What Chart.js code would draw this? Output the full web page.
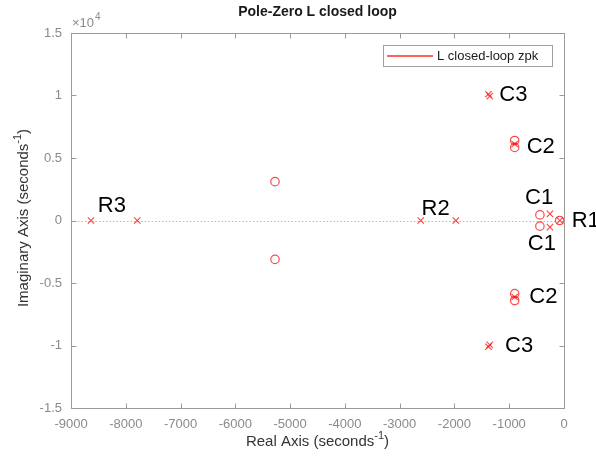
<!DOCTYPE html>
<html>
<head>
<meta charset="utf-8">
<script src="https://cdn.jsdelivr.net/npm/chart.js@4/dist/chart.umd.min.js"></script>
<style>
  html, body { margin: 0; padding: 0; background: #fff; }
  #wrap { width: 596px; height: 463px; }
</style>
</head>
<body>
<div id="wrap"><canvas id="pzChart" width="596" height="463"></canvas></div>
<script>
// poles (x markers) and zeros (o markers), seconds^-1
var poleRe = [-8635, -7790, -2615, -1975, -1380, -1355, -1380, -1355, -900, -900, -256, -256, -75];
var poleIm = [0, 0, 0, 0, 10100, 9950, -10100, -9950, 6120, -6120, 530, -530, 0];
var zeroRe = [-5276, -5276, -900, -900, -900, -900, -440, -440, -80];
var zeroIm = [3110, -3110, 6400, 5850, -6400, -5850, 450, -450, 0];

// text labels next to the pole groups
var labelText = ["R3", "R2", "C3", "C3", "C2", "C2", "C1", "C1", "R1"];
var labelRe = [-8510, -2600, -1180, -1077, -681, -634, -712, -661, 140];
var labelIm = [1180, 950, 10040, -10060, 5890, -6150, 1790, -1880, 0];

var xTicksMin = -9000, xTicksMax = 0, xStep = 1000;
var yTicksMin = -15000, yTicksMax = 15000, yStep = 5000;

var RED = "rgba(255,0,0,0.72)";
var GRAY = "#8a8a8a";
var FONT = "'Liberation Sans', Arial, sans-serif";

function toPoints(re, im) {
    var pts = [];
    for (var i = 0; i < re.length; i++) pts.push({ x: re[i], y: im[i] });
    return pts;
}

var pzPlugin = {
    id: "pzDecor",
    beforeDatasetsDraw: function (chart) {
        var ctx = chart.ctx, ys = chart.scales.y;
        var a = chart.chartArea;
        ctx.save();
        ctx.strokeStyle = "#b8b8b8";
        ctx.lineWidth = 1;
        ctx.setLineDash([1.5, 2]);
        var y0 = Math.round(ys.getPixelForValue(0)) + 0.5;
        ctx.beginPath();
        ctx.moveTo(a.left, y0);
        ctx.lineTo(a.right, y0);
        ctx.stroke();
        ctx.restore();
    },
    afterDraw: function (chart) {
        var ctx = chart.ctx, xs = chart.scales.x, ys = chart.scales.y;
        var a = chart.chartArea;
        var L = Math.round(a.left) + 0.5, R = Math.round(a.right) + 0.5;
        var T = Math.round(a.top) + 0.5, B = Math.round(a.bottom) + 0.5;
        ctx.save();

        // box
        ctx.strokeStyle = "#9a9a9a";
        ctx.lineWidth = 1;
        ctx.strokeRect(L, T, R - L, B - T);

        // inward ticks on all four sides
        ctx.beginPath();
        xs.ticks.forEach(function (t) {
            var px = Math.round(xs.getPixelForValue(t.value)) + 0.5;
            ctx.moveTo(px, B); ctx.lineTo(px, B - 5);
            ctx.moveTo(px, T); ctx.lineTo(px, T + 5);
        });
        ys.ticks.forEach(function (t) {
            var py = Math.round(ys.getPixelForValue(t.value)) + 0.5;
            ctx.moveTo(L, py); ctx.lineTo(L + 5, py);
            ctx.moveTo(R, py); ctx.lineTo(R - 5, py);
        });
        ctx.stroke();

        // title
        ctx.fillStyle = "#1a1a1a";
        ctx.font = "bold 14px " + FONT;
        ctx.textAlign = "center";
        ctx.textBaseline = "middle";
        ctx.fillText("Pole-Zero L closed loop", (a.left + a.right) / 2, 12);

        // exponent marker
        ctx.fillStyle = GRAY;
        ctx.textAlign = "left";
        ctx.textBaseline = "alphabetic";
        ctx.font = "13px " + FONT;
        ctx.fillText("\u00d710", a.left + 1, 27);
        var w10 = ctx.measureText("\u00d710").width;
        ctx.font = "10px " + FONT;
        ctx.fillText("4", a.left + 1 + w10 + 1, 20);

        // axis titles with superscript
        function drawSup(base, sup, tail, size, cx, cy) {
            var small = Math.round(size * 0.7);
            ctx.font = size + "px " + FONT;
            var w1 = ctx.measureText(base).width;
            var w3 = ctx.measureText(tail).width;
            ctx.font = small + "px " + FONT;
            var w2 = ctx.measureText(sup).width;
            var x = cx - (w1 + w2 + w3) / 2;
            ctx.textAlign = "left";
            ctx.textBaseline = "middle";
            ctx.font = size + "px " + FONT;
            ctx.fillText(base, x, cy);
            ctx.font = small + "px " + FONT;
            ctx.fillText(sup, x + w1, cy - 6);
            ctx.font = size + "px " + FONT;
            ctx.fillText(tail, x + w1 + w2, cy);
        }
        ctx.fillStyle = "#333";
        drawSup("Real Axis (seconds", "-1", ")", 15, (a.left + a.right) / 2, 442);
        ctx.save();
        ctx.translate(24, 218);
        ctx.rotate(-Math.PI / 2);
        drawSup("Imaginary Axis (seconds", "-1", ")", 15, 0, 0);
        ctx.restore();

        // legend
        var lx = 383.5, ly = 45.5, lw = 169, lh = 21;
        ctx.fillStyle = "#fff";
        ctx.fillRect(lx, ly, lw, lh);
        ctx.strokeStyle = "#a0a0a0";
        ctx.lineWidth = 1;
        ctx.strokeRect(lx, ly, lw, lh);
        ctx.strokeStyle = "#ff2a2a";
        ctx.lineWidth = 1.6;
        ctx.beginPath();
        ctx.moveTo(387, 56); ctx.lineTo(433, 56);
        ctx.stroke();
        ctx.fillStyle = "#1a1a1a";
        ctx.font = "13px " + FONT;
        ctx.textAlign = "left";
        ctx.textBaseline = "middle";
        ctx.fillText("L closed-loop zpk", 437, 56.5);

        // group labels
        ctx.font = "22px " + FONT;
        ctx.fillStyle = "#000";
        for (var i = 0; i < labelText.length; i++) {
            ctx.fillText(labelText[i], xs.getPixelForValue(labelRe[i]), ys.getPixelForValue(labelIm[i]));
        }
        ctx.restore();
    }
};

document.addEventListener("DOMContentLoaded", function () {
    var ctx = document.getElementById("pzChart");
    if (!ctx) return;
    new Chart(ctx, {
        type: "scatter",
        data: {
            datasets: [
                {
                    label: "poles",
                    data: toPoints(poleRe, poleIm),
                    pointStyle: "crossRot",
                    pointRadius: 4.5,
                    borderColor: RED,
                    backgroundColor: RED,
                    borderWidth: 1.2,
                    clip: false
                },
                {
                    label: "zeros",
                    data: toPoints(zeroRe, zeroIm),
                    pointStyle: "circle",
                    pointRadius: 4.2,
                    borderColor: RED,
                    backgroundColor: "rgba(0,0,0,0)",
                    borderWidth: 1.2,
                    clip: false
                }
            ]
        },
        options: {
            responsive: false,
            animation: false,
            events: [],
            layout: { padding: { top: 33, right: 32, left: 0, bottom: 0 } },
            plugins: {
                legend: { display: false },
                title: { display: false },
                tooltip: { enabled: false }
            },
            scales: {
                x: {
                    type: "linear",
                    min: xTicksMin,
                    max: xTicksMax,
                    grid: { display: false, drawTicks: false },
                    border: { display: false },
                    ticks: {
                        stepSize: xStep,
                        color: GRAY,
                        padding: 9,
                        maxRotation: 0,
                        font: { family: FONT, size: 13 },
                        callback: function (v) { return String(v); }
                    },
                    afterFit: function (s) { s.height = 55; }
                },
                y: {
                    type: "linear",
                    min: yTicksMin,
                    max: yTicksMax,
                    grid: { display: false, drawTicks: false },
                    border: { display: false },
                    ticks: {
                        stepSize: yStep,
                        color: GRAY,
                        padding: 9,
                        font: { family: FONT, size: 13 },
                        callback: function (v) { return String(v / 10000); }
                    },
                    afterFit: function (s) { s.width = 71; }
                }
            }
        },
        plugins: [pzPlugin]
    });
});
</script>
</body>
</html>
